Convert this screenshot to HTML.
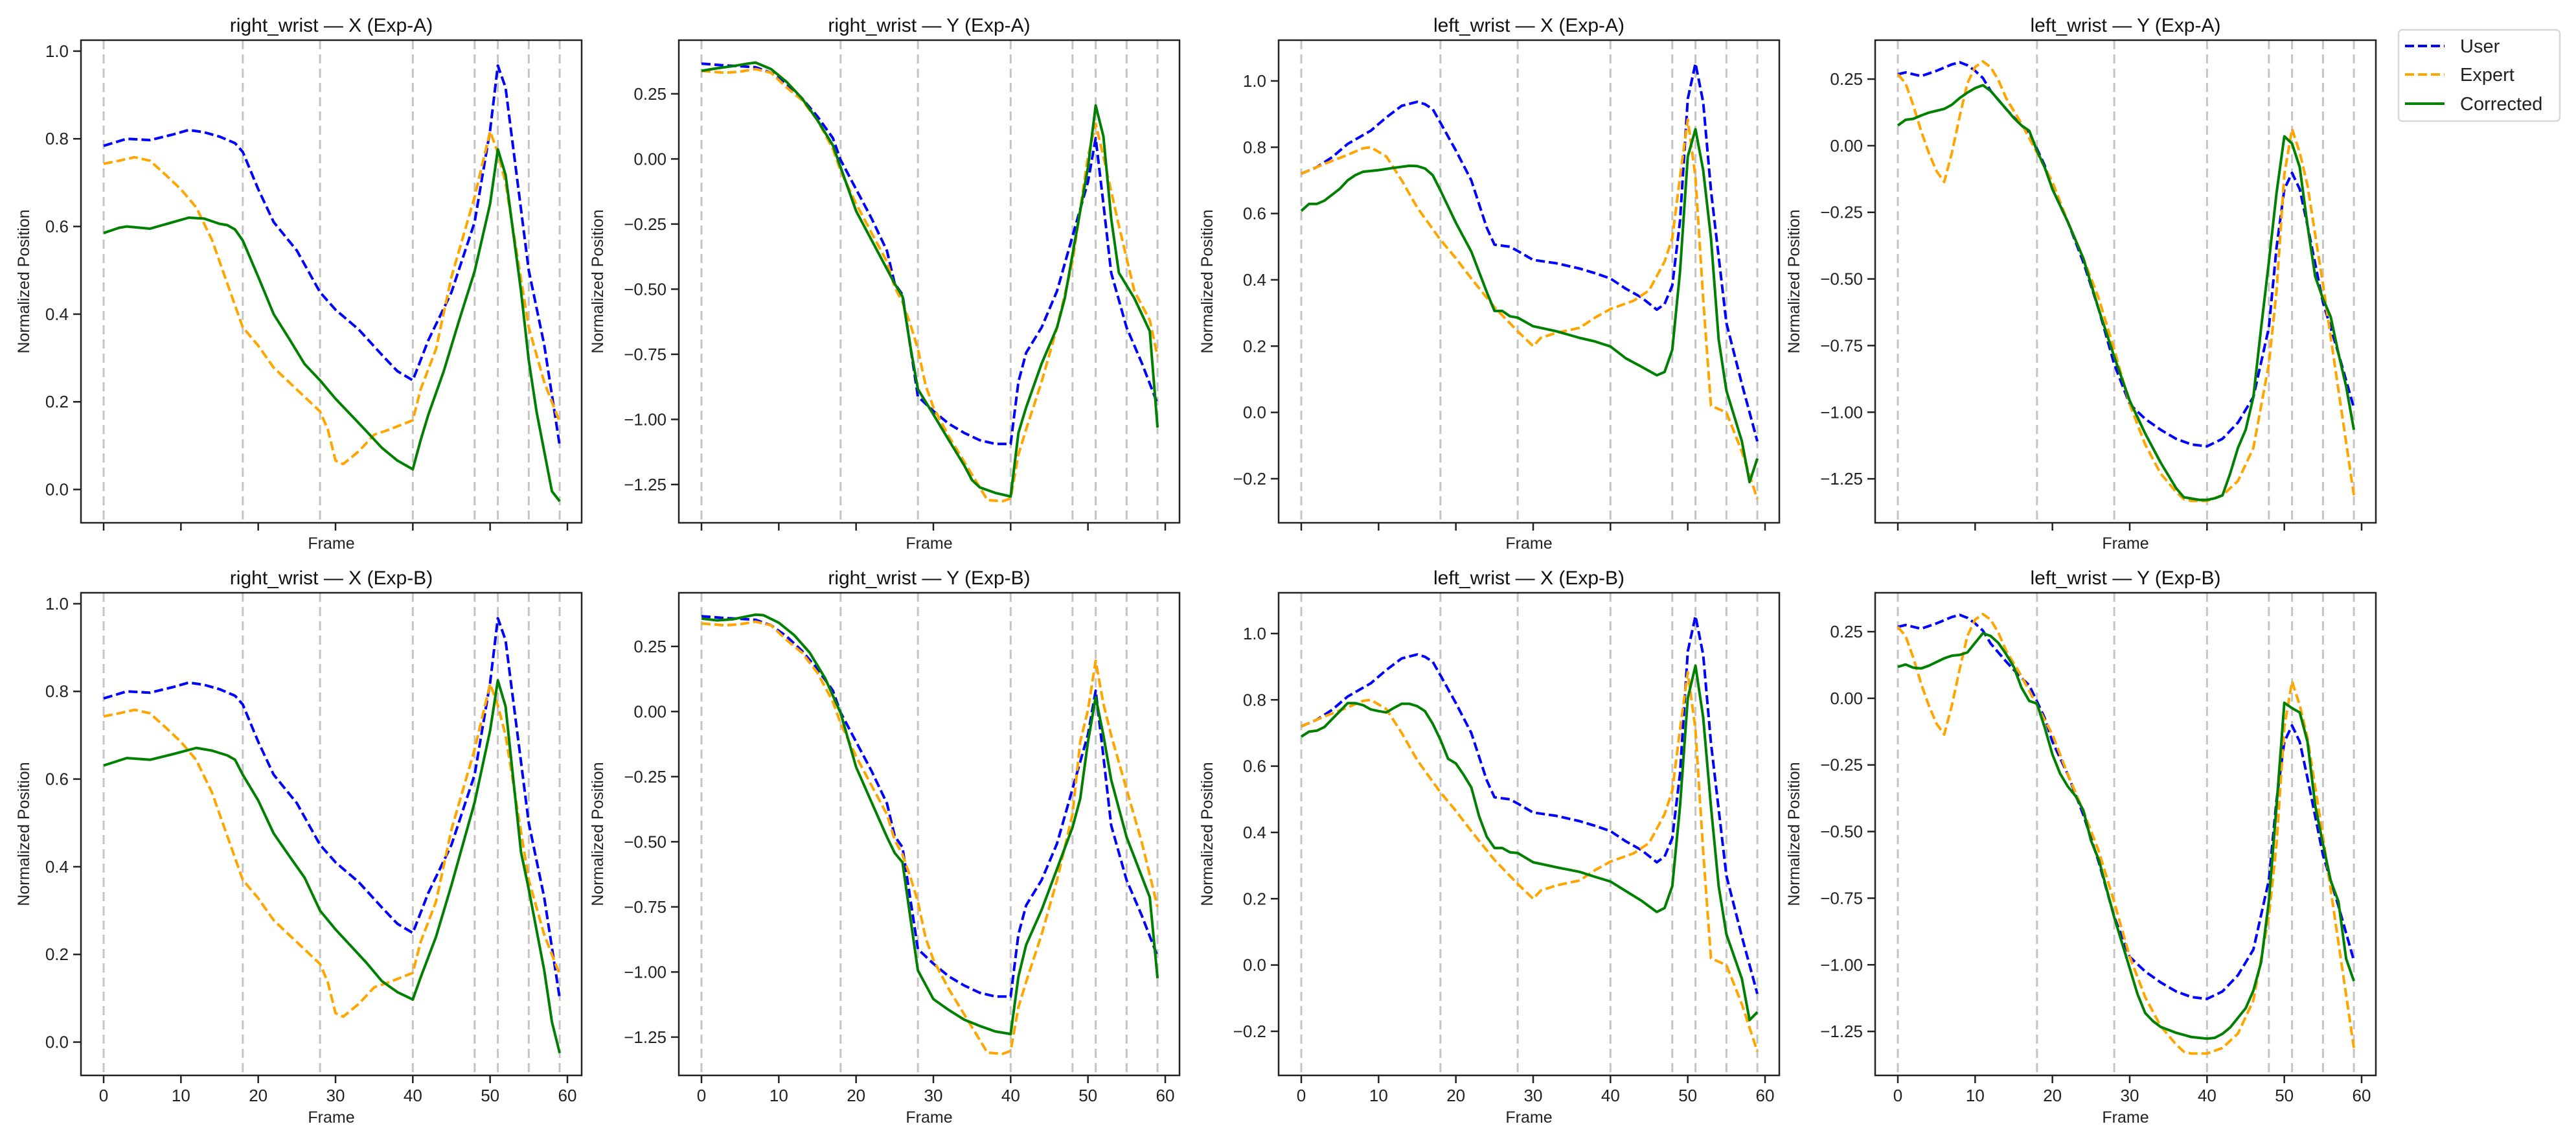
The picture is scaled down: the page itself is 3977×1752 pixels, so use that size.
<!DOCTYPE html>
<html><head><meta charset="utf-8"><style>
html,body{margin:0;padding:0;background:#fff;}
svg{display:block;font-family:"Liberation Sans","DejaVu Sans",sans-serif;}
</style></head><body>
<svg id="fig" width="3977" height="1752" viewBox="0 0 3977 1752" xmlns="http://www.w3.org/2000/svg">
<rect x="0" y="0" width="3977" height="1752" fill="#fff"/>
<g>
<rect x="3703" y="46" width="249" height="141" rx="6" fill="#fff" stroke="#d8d8d8" stroke-width="2.5"/>
<g><line x1="3713" y1="71" x2="3774" y2="71" stroke="#0000ff" stroke-width="4" stroke-dasharray="14,6"/><text x="3798" y="81" font-size="29" fill="#222">User</text></g>
<g><line x1="3713" y1="115" x2="3774" y2="115" stroke="#ffa500" stroke-width="4" stroke-dasharray="14,6"/><text x="3798" y="125" font-size="29" fill="#222">Expert</text></g>
<g><line x1="3713" y1="160" x2="3774" y2="160" stroke="#008000" stroke-width="4"/><text x="3798" y="170" font-size="29" fill="#222">Corrected</text></g>
</g>
</svg>
<script>
const keyFrames = [0, 18, 28, 40, 48, 51, 55, 59];
const xTicks = [0, 10, 20, 30, 40, 50, 60];

const rwxUser = [[0,.784],[3,.80],[6,.797],[9,.81],[11,.82],[13,.815],[15,.805],[17,.79],[18,.77],[20,.685],[22,.61],[25,.545],[28,.45],[30,.41],[33,.365],[36,.307],[38,.27],[40,.249],[42,.34],[45,.45],[48,.61],[50,.82],[51,.967],[52,.917],[55,.50],[57,.33],[59,.10]];
const rwxExpert = [[0,.743],[2,.75],[4,.758],[6,.75],[8,.718],[10,.685],[12,.643],[14,.57],[16,.47],[18,.37],[20,.328],[22,.278],[25,.228],[28,.178],[29,.137],[30,.066],[31,.058],[33,.087],[35,.125],[37,.137],[40,.158],[41,.228],[43,.32],[45,.485],[48,.668],[50,.817],[51,.768],[52,.70],[55,.37],[57,.245],[59,.154]];
const rwxCorrA = [[0,.585],[2,.597],[3,.60],[6,.595],[9,.61],[11,.62],[13,.618],[15,.606],[16,.603],[17,.593],[18,.568],[20,.485],[22,.40],[24,.344],[26,.286],[28,.249],[30,.207],[32,.17],[34,.133],[36,.095],[38,.066],[40,.046],[41,.112],[42,.17],[44,.27],[46,.386],[48,.498],[50,.652],[51,.776],[52,.718],[54,.452],[55,.295],[56,.178],[58,-.004],[59,-.027]];
const rwxCorrB = [[0,.631],[3,.648],[6,.644],[9,.657],[12,.671],[14,.665],[16,.654],[17,.644],[18,.61],[20,.551],[22,.476],[24,.425],[26,.375],[28,.30],[30,.257],[32,.219],[34,.181],[36,.139],[38,.114],[40,.097],[41,.147],[43,.24],[45,.358],[48,.547],[50,.711],[51,.825],[52,.766],[54,.433],[55,.349],[57,.164],[58,.046],[59,-.025]];

const rwyUser = [[0,.366],[3,.359],[5,.356],[7,.352],[9,.331],[11,.289],[13,.233],[15,.163],[17,.08],[18,-.004],[20,-.116],[22,-.228],[24,-.353],[25,-.479],[26,-.521],[27,-.716],[28,-.912],[30,-.968],[32,-1.017],[34,-1.052],[36,-1.08],[38,-1.094],[40,-1.094],[41,-.856],[42,-.744],[44,-.647],[46,-.507],[48,-.297],[50,-.088],[51,.08],[52,-.172],[53,-.437],[55,-.647],[57,-.786],[59,-.94]];
const rwyExpertA = [[0,.338],[3,.331],[5,.335],[7,.345],[9,.331],[11,.275],[13,.226],[15,.149],[17,.038],[18,-.046],[20,-.172],[22,-.284],[24,-.395],[25,-.493],[26,-.549],[27,-.633],[28,-.73],[29,-.87],[30,-.953],[32,-1.066],[34,-1.163],[36,-1.261],[37,-1.31],[39,-1.314],[40,-1.303],[41,-1.135],[42,-1.038],[44,-.856],[46,-.647],[48,-.395],[50,.01],[51,.135],[52,.01],[54,-.256],[56,-.507],[58,-.619],[59,-.758]];
const rwyExpertB = [[0,.338],[3,.331],[5,.335],[7,.345],[9,.331],[11,.275],[13,.226],[15,.149],[17,.038],[18,-.046],[20,-.172],[22,-.284],[24,-.395],[25,-.493],[26,-.549],[27,-.633],[28,-.73],[29,-.87],[30,-.953],[32,-1.066],[34,-1.163],[36,-1.261],[37,-1.31],[39,-1.314],[40,-1.303],[41,-1.135],[42,-1.038],[44,-.856],[46,-.647],[48,-.395],[49,-.116],[50,.006],[51,.195],[52,.03],[53,-.091],[55,-.299],[57,-.506],[59,-.75]];
const rwyCorrA = [[0,.338],[2,.348],[4,.356],[6,.366],[7,.37],[9,.345],[11,.296],[13,.233],[15,.149],[17,.052],[18,-.032],[20,-.2],[22,-.311],[24,-.423],[25,-.479],[26,-.528],[27,-.716],[28,-.884],[30,-.981],[32,-1.08],[34,-1.177],[35,-1.233],[36,-1.261],[38,-1.282],[40,-1.296],[41,-1.052],[42,-.954],[44,-.786],[46,-.647],[47,-.535],[48,-.367],[50,-.032],[51,.205],[52,.087],[53,-.228],[54,-.437],[56,-.535],[58,-.661],[59,-1.031]];
const rwyCorrB = [[0,.357],[2,.35],[4,.354],[6,.366],[7,.372],[8,.37],[10,.341],[12,.293],[14,.226],[16,.128],[18,-.006],[20,-.213],[22,-.348],[24,-.482],[25,-.543],[26,-.579],[27,-.787],[28,-.994],[30,-1.104],[32,-1.146],[34,-1.183],[36,-1.207],[38,-1.228],[40,-1.238],[41,-1.018],[42,-.896],[44,-.762],[46,-.604],[48,-.445],[49,-.335],[50,-.116],[51,.055],[52,-.091],[53,-.262],[55,-.482],[58,-.713],[59,-1.024]];

const lwxUser = [[0,.72],[2,.74],[4,.77],[6,.81],[9,.85],[11,.89],[13,.925],[15,.937],[16,.93],[17,.915],[18,.874],[20,.79],[22,.70],[24,.557],[25,.506],[27,.50],[28,.487],[30,.46],[33,.45],[36,.434],[38,.42],[40,.404],[42,.373],[44,.347],[46,.31],[47,.327],[48,.383],[49,.577],[50,.946],[51,1.053],[52,.936],[53,.67],[55,.27],[57,.086],[59,-.087]];
const lwxExpert = [[0,.72],[3,.75],[6,.777],[8,.797],[9,.80],[11,.772],[13,.70],[15,.618],[18,.521],[20,.465],[22,.404],[25,.317],[28,.245],[30,.20],[31,.225],[33,.24],[36,.255],[38,.286],[40,.312],[43,.337],[45,.368],[47,.455],[48,.526],[49,.71],[50,.884],[51,.71],[52,.342],[53,.02],[55,0],[57,-.118],[59,-.261]];
const lwxCorrA = [[0,.608],[1,.629],[2,.629],[3,.639],[5,.675],[6,.70],[7,.716],[8,.726],[10,.731],[12,.738],[14,.744],[15,.743],[16,.736],[17,.716],[18,.67],[20,.572],[22,.485],[24,.363],[25,.306],[26,.306],[27,.29],[28,.286],[30,.26],[33,.245],[36,.225],[38,.214],[40,.199],[42,.163],[44,.138],[46,.112],[47,.122],[48,.189],[49,.424],[50,.772],[51,.854],[52,.731],[53,.526],[54,.22],[55,.066],[57,-.087],[58,-.21],[59,-.139]];
const lwxCorrB = [[0,.689],[1,.704],[2,.707],[3,.718],[4,.742],[5,.766],[6,.79],[7,.79],[8,.784],[9,.771],[10,.766],[11,.762],[12,.776],[13,.788],[14,.788],[15,.781],[16,.766],[17,.728],[18,.68],[19,.622],[20,.608],[21,.574],[22,.536],[23,.449],[24,.387],[25,.353],[26,.353],[27,.34],[28,.338],[30,.31],[33,.295],[36,.281],[38,.266],[40,.252],[42,.223],[44,.194],[46,.16],[47,.172],[48,.238],[49,.478],[50,.805],[51,.903],[52,.747],[53,.478],[54,.238],[55,.093],[57,-.041],[58,-.166],[59,-.142]];

const lwyUser = [[0,.268],[1,.275],[3,.261],[5,.281],[7,.305],[8,.313],[9,.302],[10,.281],[11,.254],[12,.206],[14,.138],[16,.076],[17,.049],[18,-.012],[19,-.074],[20,-.163],[22,-.286],[24,-.437],[26,-.615],[28,-.82],[30,-.97],[32,-1.025],[34,-1.066],[36,-1.1],[38,-1.121],[40,-1.128],[42,-1.1],[44,-1.039],[46,-.943],[48,-.683],[49,-.382],[50,-.163],[51,-.102],[52,-.163],[53,-.3],[55,-.587],[57,-.779],[59,-.984]];
const lwyExpert = [[0,.268],[1,.234],[2,.152],[3,.056],[4,-.026],[5,-.095],[6,-.136],[7,-.026],[8,.11],[9,.234],[10,.295],[11,.316],[12,.295],[13,.247],[14,.179],[16,.083],[18,-.026],[20,-.136],[22,-.286],[24,-.423],[26,-.574],[28,-.765],[30,-.97],[32,-1.121],[34,-1.23],[36,-1.299],[37,-1.326],[38,-1.333],[40,-1.333],[42,-1.312],[44,-1.258],[46,-1.134],[48,-.82],[49,-.546],[50,-.108],[51,.063],[52,-.026],[53,-.149],[55,-.519],[57,-.916],[59,-1.312]];
const lwyCorrA = [[0,.076],[1,.097],[2,.101],[3,.113],[4,.124],[5,.131],[6,.138],[7,.154],[8,.179],[9,.199],[10,.216],[11,.227],[12,.206],[13,.172],[14,.138],[15,.104],[16,.076],[17,.056],[18,-.019],[19,-.081],[20,-.163],[22,-.286],[24,-.423],[25,-.519],[26,-.615],[28,-.792],[30,-.957],[32,-1.08],[34,-1.189],[36,-1.285],[37,-1.319],[39,-1.329],[40,-1.329],[41,-1.323],[42,-1.312],[43,-1.23],[44,-1.134],[45,-1.066],[46,-.943],[47,-.683],[48,-.437],[49,-.177],[50,.035],[51,.008],[52,-.081],[53,-.3],[54,-.491],[55,-.574],[56,-.642],[57,-.779],[58,-.903],[59,-1.066]];
const lwyCorrB = [[0,.118],[1,.127],[2,.115],[3,.112],[4,.122],[6,.15],[7,.16],[8,.163],[9,.172],[10,.208],[11,.244],[12,.234],[13,.208],[14,.166],[15,.118],[16,.04],[17,-.01],[18,-.02],[19,-.109],[20,-.211],[21,-.283],[22,-.331],[23,-.367],[24,-.42],[25,-.534],[26,-.606],[27,-.714],[28,-.822],[29,-.918],[30,-1.013],[31,-1.109],[32,-1.181],[33,-1.211],[34,-1.233],[36,-1.255],[38,-1.271],[40,-1.277],[41,-1.274],[42,-1.259],[43,-1.235],[44,-1.199],[45,-1.163],[46,-1.097],[47,-.99],[48,-.762],[49,-.403],[50,-.017],[51,-.037],[52,-.053],[53,-.163],[54,-.403],[55,-.546],[56,-.684],[57,-.762],[58,-.977],[59,-1.061]];

const yTicksX = [0, 0.2, 0.4, 0.6, 0.8, 1.0];
const yTicksY = [-1.25, -1.0, -0.75, -0.5, -0.25, 0, 0.25];
const yTicksLX = [-0.2, 0, 0.2, 0.4, 0.6, 0.8, 1.0];

const panels = [
  {name:'rwx-a', title:'right_wrist — X (Exp-A)', col:0,row:0, u:rwxUser, e:rwxExpert, c:rwxCorrA, ylim:[-0.076,1.025], ticks:yTicksX, dec:1, lab:80},
  {name:'rwy-a', title:'right_wrist — Y (Exp-A)', col:1,row:0, u:rwyUser, e:rwyExpertA, c:rwyCorrA, ylim:[-1.397,0.456], ticks:yTicksY, dec:2, lab:117},
  {name:'lwx-a', title:'left_wrist — X (Exp-A)', col:2,row:0, u:lwxUser, e:lwxExpert, c:lwxCorrA, ylim:[-0.333,1.123], ticks:yTicksLX, dec:1, lab:102},
  {name:'lwy-a', title:'left_wrist — Y (Exp-A)', col:3,row:0, u:lwyUser, e:lwyExpert, c:lwyCorrA, ylim:[-1.415,0.396], ticks:yTicksY, dec:2, lab:117},
  {name:'rwx-b', title:'right_wrist — X (Exp-B)', col:0,row:1, u:rwxUser, e:rwxExpert, c:rwxCorrB, ylim:[-0.076,1.025], ticks:yTicksX, dec:1, lab:80},
  {name:'rwy-b', title:'right_wrist — Y (Exp-B)', col:1,row:1, u:rwyUser, e:rwyExpertB, c:rwyCorrB, ylim:[-1.397,0.456], ticks:yTicksY, dec:2, lab:117},
  {name:'lwx-b', title:'left_wrist — X (Exp-B)', col:2,row:1, u:lwxUser, e:lwxExpert, c:lwxCorrB, ylim:[-0.333,1.123], ticks:yTicksLX, dec:1, lab:102},
  {name:'lwy-b', title:'left_wrist — Y (Exp-B)', col:3,row:1, u:lwyUser, e:lwyExpert, c:lwyCorrB, ylim:[-1.415,0.396], ticks:yTicksY, dec:2, lab:117}
];

const NS = 'http://www.w3.org/2000/svg';
const svg = document.getElementById('fig');
const legendNode = svg.lastElementChild;
const LEFTS = [125, 1048, 1974, 2895];
const TOPS = [62, 915];
const W = 773, H = 745;

function mk(tag, attrs, parent) {
  const el = document.createElementNS(NS, tag);
  for (const k in attrs) el.setAttribute(k, attrs[k]);
  parent.appendChild(el);
  return el;
}
function fmt(v, d) {
  const s = Math.abs(v).toFixed(d);
  return (v < -1e-9 ? '\u2212' : '') + s;
}

panels.forEach(p => {
  const L = LEFTS[p.col], T = TOPS[p.row];
  const xS = f => L + 35 + f * (716 / 60);
  const yS = v => T + (p.ylim[1] - v) / (p.ylim[1] - p.ylim[0]) * H;
  const g = mk('g', {}, svg);
  
  
  svg.insertBefore(g, legendNode);

  const t = mk('text', {x: L + W / 2, y: T - 13, 'font-size': 30, 'text-anchor': 'middle', fill: '#111'}, g);
  t.textContent = p.title;
  
  

  keyFrames.forEach(f => {
    const l = mk('line', {x1: xS(f), x2: xS(f), y1: T, y2: T + H, stroke: '#c4c4c4', 'stroke-width': 3, 'stroke-dasharray': '14,8'}, g);
    
    
  });

  const series = [[p.u, '#0000ff', '14,6', 'user-line'], [p.e, '#ffa500', '14,6', 'expert-line'], [p.c, '#008000', '', 'corrected-line']];
  series.forEach(s => {
    const d = s[0].map((pt, i) => (i ? 'L' : 'M') + xS(pt[0]).toFixed(1) + ',' + yS(pt[1]).toFixed(1)).join('');
    const path = mk('path', {d: d, fill: 'none', stroke: s[1], 'stroke-width': 4, 'stroke-linejoin': 'round'}, g);
    if (s[2]) path.setAttribute('stroke-dasharray', s[2]);
    
    
  });

  const frame = mk('rect', {x: L, y: T, width: W, height: H, fill: 'none', stroke: '#222', 'stroke-width': 2.5}, g);
  
  

  p.ticks.forEach(v => {
    const y = yS(v);
    mk('line', {x1: L - 12, x2: L, y1: y, y2: y, stroke: '#222', 'stroke-width': 2.5}, g);
    const tl = mk('text', {x: L - 19, y: y + 9, 'font-size': 26, 'text-anchor': 'end', fill: '#222'}, g);
    tl.textContent = fmt(v, p.dec);
    
    
  });

  xTicks.forEach(f => {
    const x = xS(f);
    mk('line', {x1: x, x2: x, y1: T + H, y2: T + H + 12, stroke: '#222', 'stroke-width': 2.5}, g);
    if (p.row === 1) {
      const tl = mk('text', {x: x, y: T + H + 40, 'font-size': 26, 'text-anchor': 'middle', fill: '#222'}, g);
      tl.textContent = String(f);
      
      
    }
  });

  const xl = mk('text', {x: L + W / 2, y: T + H + (p.row === 1 ? 73 : 40), 'font-size': 25, 'text-anchor': 'middle', fill: '#222'}, g);
  xl.textContent = 'Frame';
  
  

  const yx = L - p.lab, yy = T + H / 2;
  const yl = mk('text', {x: yx, y: yy, 'font-size': 25, 'text-anchor': 'middle', fill: '#222', transform: 'rotate(-90 ' + yx + ' ' + yy + ')'}, g);
  yl.textContent = 'Normalized Position';
  
  
});
</script>
</body></html>
